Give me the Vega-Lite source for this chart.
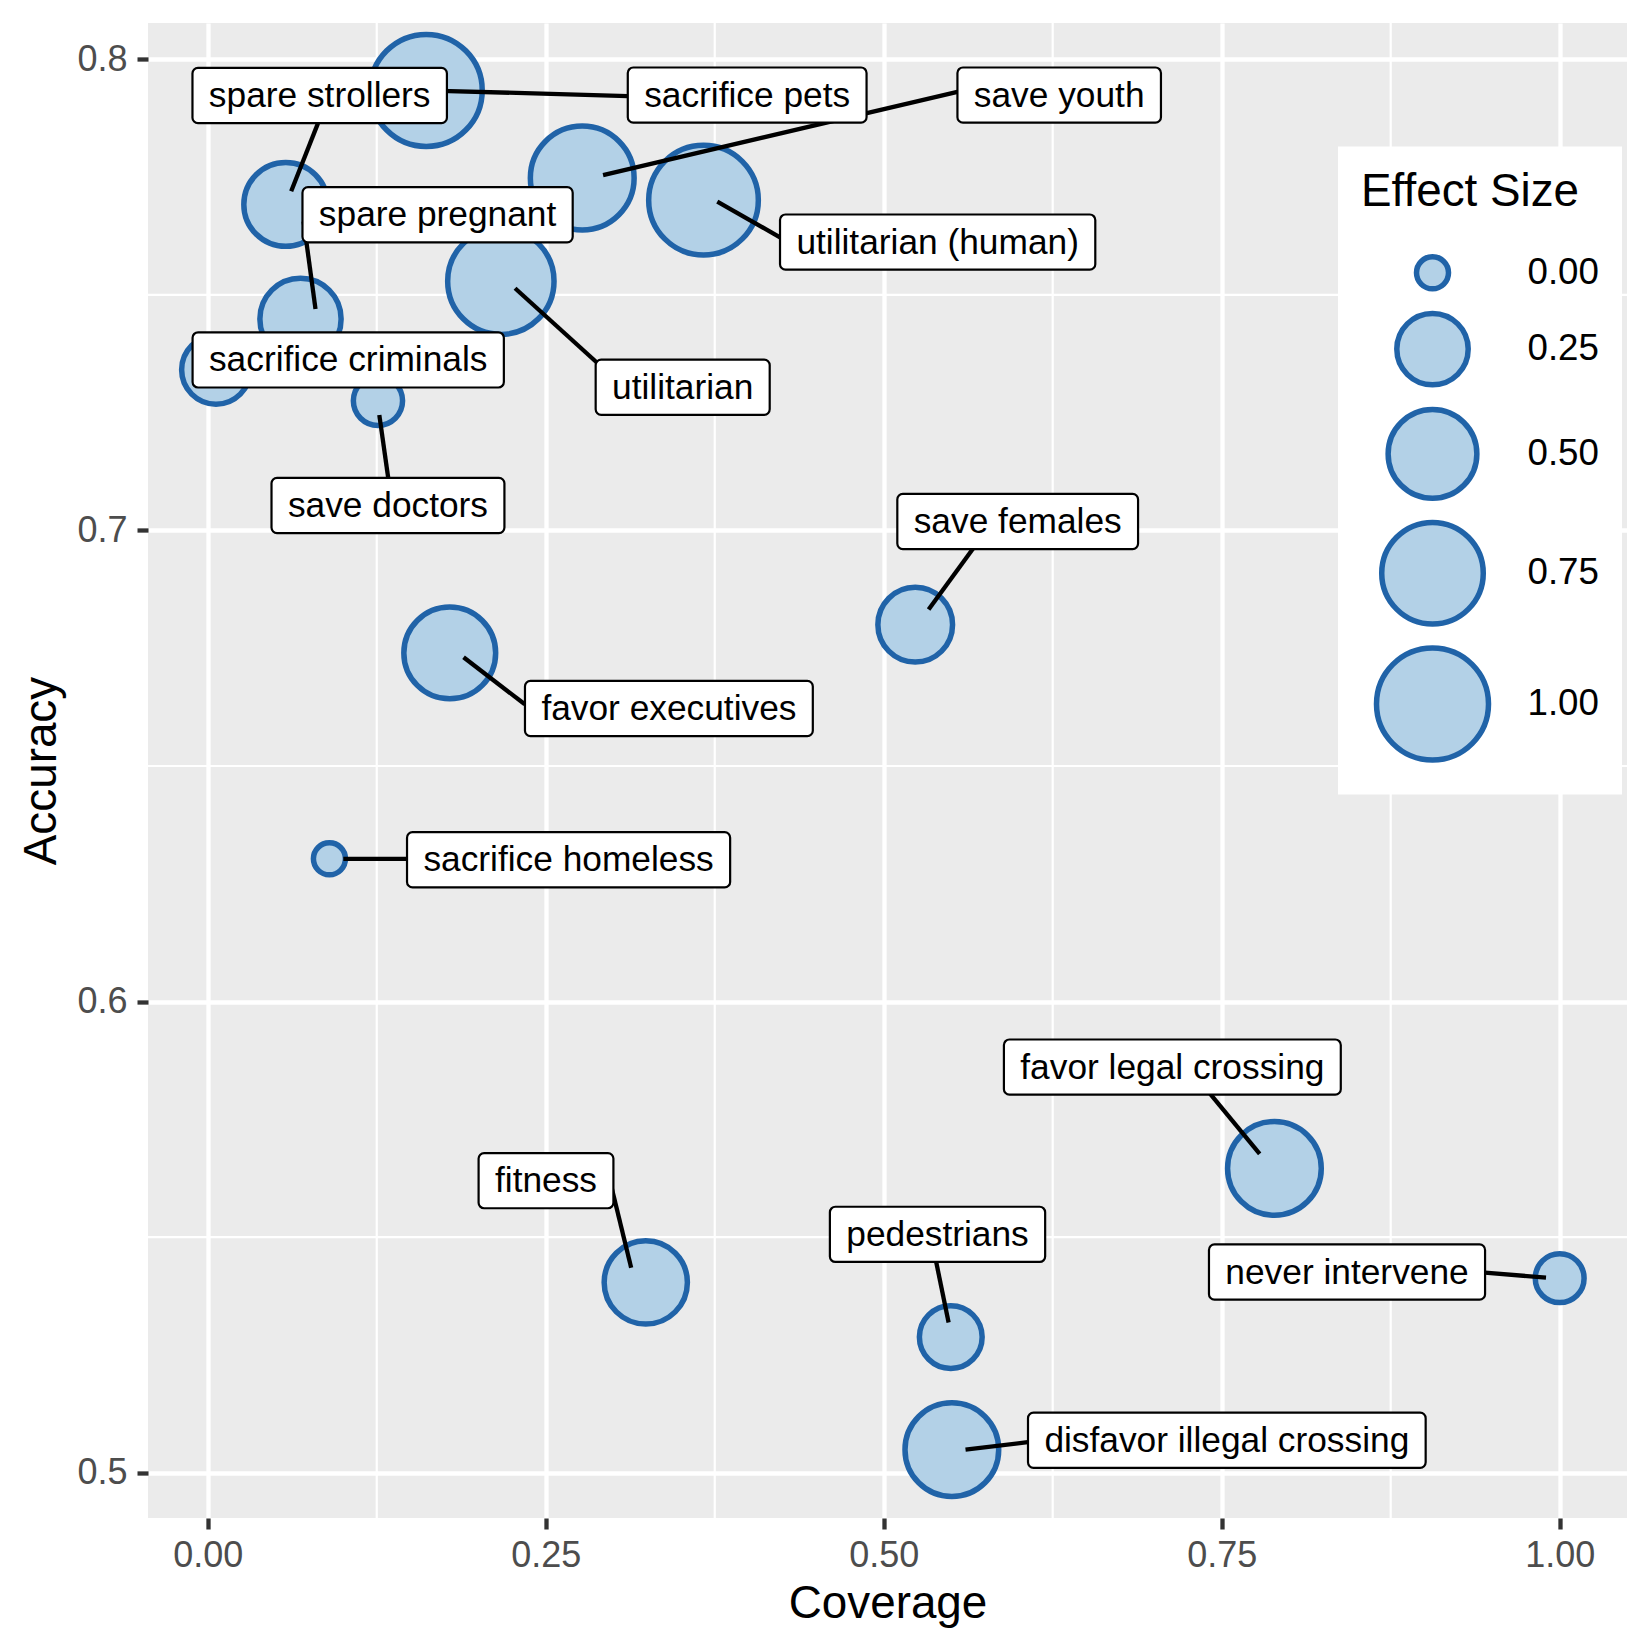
{
  "$schema": "https://vega.github.io/schema/vega-lite/v6.json",
  "width": 1479,
  "height": 1495,
  "autosize": {"type": "none"},
  "padding": {"left": 148, "top": 23, "right": 23, "bottom": 132},
  "config": {
    "font": "Liberation Sans",
    "view": {"fill": "#EBEBEB", "stroke": null},
    "axis": {
      "grid": true,
      "gridColor": "white",
      "gridWidth": 4.3,
      "domain": false,
      "tickColor": "#333333",
      "tickWidth": 4.3,
      "tickSize": 11,
      "labelFontSize": 36,
      "labelColor": "#4D4D4D",
      "labelFlush": false,
      "labelOverlap": false,
      "labelBound": false,
      "titleFontSize": 45.8,
      "titleFontWeight": "normal",
      "titleColor": "black"
    },
    "axisX": {"labelPadding": 37, "labelBaseline": "alphabetic", "titleBaseline": "alphabetic", "titleX": 739.5, "titleY": 99},
    "axisY": {"labelPadding": 10, "titleAngle": -90, "titleBaseline": "alphabetic", "titleAlign": "center", "titleX": -93, "titleY": 747.5}
  },
  "data": {
    "values": [
      {"label": "spare strollers", "x": 0.0577, "y": 0.7692, "effect": 0.42, "lx": 0.0828, "ly": 0.7923, "sx": 0.0617, "sy": 0.772, "ex": 0.0815, "ey": 0.7864},
      {"label": "sacrifice pets", "x": 0.1616, "y": 0.7934, "effect": 1.0, "lx": 0.399, "ly": 0.7924, "sx": 0.172, "sy": 0.7933, "ex": 0.3107, "ey": 0.7922},
      {"label": "save youth", "x": 0.277, "y": 0.7748, "effect": 0.8, "lx": 0.6298, "ly": 0.7924, "sx": 0.2924, "sy": 0.7754, "ex": 0.5545, "ey": 0.7931},
      {"label": "utilitarian (human)", "x": 0.3667, "y": 0.7701, "effect": 0.94, "lx": 0.5399, "ly": 0.7612, "sx": 0.3769, "sy": 0.7698, "ex": 0.4233, "ey": 0.7622},
      {"label": "spare pregnant", "x": 0.0686, "y": 0.7449, "effect": 0.38, "lx": 0.17, "ly": 0.767, "sx": 0.0797, "sy": 0.747, "ex": 0.0709, "ey": 0.7656},
      {"label": "sacrifice criminals", "x": 0.0061, "y": 0.7341, "effect": 0.22, "lx": 0.1039, "ly": 0.7362, "sx": 0.02, "sy": 0.7345, "ex": 0.03, "ey": 0.7345},
      {"label": "utilitarian", "x": 0.2168, "y": 0.7529, "effect": 0.86, "lx": 0.3513, "ly": 0.7304, "sx": 0.2273, "sy": 0.7514, "ex": 0.2876, "ey": 0.7357},
      {"label": "save doctors", "x": 0.1259, "y": 0.7275, "effect": 0.06, "lx": 0.1333, "ly": 0.7053, "sx": 0.1269, "sy": 0.7245, "ex": 0.1335, "ey": 0.7111},
      {"label": "save females", "x": 0.5233, "y": 0.68, "effect": 0.29, "lx": 0.5991, "ly": 0.7019, "sx": 0.5332, "sy": 0.6832, "ex": 0.566, "ey": 0.6961},
      {"label": "favor executives", "x": 0.179, "y": 0.674, "effect": 0.555, "lx": 0.3411, "ly": 0.6622, "sx": 0.1892, "sy": 0.6731, "ex": 0.2345, "ey": 0.6631},
      {"label": "sacrifice homeless", "x": 0.09, "y": 0.6303, "effect": 0.0, "lx": 0.2669, "ly": 0.6301, "sx": 0.1003, "sy": 0.6303, "ex": 0.1473, "ey": 0.6303},
      {"label": "favor legal crossing", "x": 0.789, "y": 0.5646, "effect": 0.59, "lx": 0.7135, "ly": 0.5861, "sx": 0.7781, "sy": 0.5677, "ex": 0.7415, "ey": 0.5804},
      {"label": "fitness", "x": 0.324, "y": 0.5404, "effect": 0.41, "lx": 0.2502, "ly": 0.562, "sx": 0.3132, "sy": 0.5435, "ex": 0.2984, "ey": 0.5609},
      {"label": "pedestrians", "x": 0.5496, "y": 0.5288, "effect": 0.16, "lx": 0.5398, "ly": 0.5506, "sx": 0.548, "sy": 0.5319, "ex": 0.5387, "ey": 0.5449},
      {"label": "never intervene", "x": 1.0, "y": 0.5413, "effect": 0.058, "lx": 0.8427, "ly": 0.5426, "sx": 0.9899, "sy": 0.5414, "ex": 0.9447, "ey": 0.5425},
      {"label": "disfavor illegal crossing", "x": 0.5504, "y": 0.5049, "effect": 0.59, "lx": 0.7538, "ly": 0.5069, "sx": 0.5605, "sy": 0.5049, "ex": 0.6065, "ey": 0.5065}
    ]
  },
  "layer": [
    {
      "data": {"values": [{"m": 0.125}, {"m": 0.375}, {"m": 0.625}, {"m": 0.875}]},
      "mark": {"type": "rule", "color": "white", "strokeWidth": 2.2},
      "encoding": {
        "x": {"field": "m", "type": "quantitative", "title": "Coverage", "scale": {"domain": [-0.0442, 1.0498], "nice": false, "zero": false}}
      }
    },
    {
      "data": {"values": [{"m": 0.55}, {"m": 0.65}, {"m": 0.75}]},
      "mark": {"type": "rule", "color": "white", "strokeWidth": 2.2},
      "encoding": {
        "y": {"field": "m", "type": "quantitative", "title": "Accuracy", "scale": {"domain": [0.4904, 0.8077], "nice": false, "zero": false}}
      }
    },
    {
      "mark": {"type": "circle", "color": "#B3D1E7", "stroke": "#2063A8", "strokeWidth": 5.5, "opacity": 1},
      "encoding": {
        "x": {"field": "x", "type": "quantitative", "title": "Coverage", "scale": {"domain": [-0.0442, 1.0498], "nice": false, "zero": false}, "axis": {"values": [0, 0.25, 0.5, 0.75, 1], "format": ".2f", "title": "Coverage"}},
        "y": {"field": "y", "type": "quantitative", "title": "Accuracy", "scale": {"domain": [0.4904, 0.8077], "nice": false, "zero": false}, "axis": {"values": [0.5, 0.6, 0.7, 0.8], "format": ".1f", "title": "Accuracy"}},
        "size": {
          "field": "effect",
          "type": "quantitative",
          "scale": {"type": "pow", "exponent": 0.75, "domain": [0, 1], "range": [1024, 12544]},
          "legend": {
            "title": "Effect Size",
            "orient": "none",
            "legendX": 1190,
            "legendY": 123.5,
            "values": [0, 0.25, 0.5, 0.75, 1],
            "format": ".2f",
            "fillColor": "white",
            "padding": 23,
            "titleFontSize": 45.8,
            "titleFontWeight": "normal",
            "titleColor": "black",
            "titleLimit": 500,
            "titlePadding": 38.5,
            "labelFontSize": 36.7,
            "labelColor": "black",
            "labelOffset": 36,
            "symbolOffset": 12.5,
            "rowPadding": 1.8,
            "symbolType": "circle",
            "symbolStrokeWidth": 5.5,
            "symbolOpacity": 1,
            "encode": {
              "symbols": {"fill": {"value": "#B3D1E7"}, "stroke": {"value": "#2063A8"}, "strokeWidth": {"value": 5.5}},
              "entries": {"fill": {"value": "#F0F0F0"}, "width": {"value": 142}, "height": {"value": 130}}
            }
          }
        }
      }
    },
    {
      "mark": {"type": "rule", "color": "black", "strokeWidth": 4.3},
      "encoding": {
        "x": {"field": "sx", "type": "quantitative", "title": "Coverage", "scale": {"domain": [-0.0442, 1.0498], "nice": false, "zero": false}},
        "y": {"field": "sy", "type": "quantitative", "title": "Accuracy", "scale": {"domain": [0.4904, 0.8077], "nice": false, "zero": false}},
        "x2": {"field": "ex"},
        "y2": {"field": "ey"}
      }
    },
    {
      "mark": {
        "type": "rect",
        "fill": "white",
        "stroke": "black",
        "strokeWidth": 2.2,
        "cornerRadius": 5.5,
        "yOffset": -27.6,
        "y2Offset": 27.6,
        "xOffset": {"expr": "-(0.01765*(556*length(datum.label)-334*length(replace(datum.label,regexp('[^ilj]','g'),''))-278*length(replace(datum.label,regexp('[^ft ]','g'),''))-223*length(replace(datum.label,regexp('[^r()]','g'),''))-56*length(replace(datum.label,regexp('[^scvyx]','g'),''))+277*length(replace(datum.label,regexp('[^m]','g'),'')))+16.4)"},
        "x2Offset": {"expr": "(0.01765*(556*length(datum.label)-334*length(replace(datum.label,regexp('[^ilj]','g'),''))-278*length(replace(datum.label,regexp('[^ft ]','g'),''))-223*length(replace(datum.label,regexp('[^r()]','g'),''))-56*length(replace(datum.label,regexp('[^scvyx]','g'),''))+277*length(replace(datum.label,regexp('[^m]','g'),'')))+16.4)"}
      },
      "encoding": {
        "x": {"field": "lx", "type": "quantitative", "title": "Coverage", "scale": {"domain": [-0.0442, 1.0498], "nice": false, "zero": false}},
        "x2": {"field": "lx"},
        "y": {"field": "ly", "type": "quantitative", "title": "Accuracy", "scale": {"domain": [0.4904, 0.8077], "nice": false, "zero": false}},
        "y2": {"field": "ly"}
      }
    },
    {
      "mark": {"type": "text", "fontSize": 35.3, "align": "center", "baseline": "alphabetic", "dy": 11.5, "fill": "black"},
      "encoding": {
        "x": {"field": "lx", "type": "quantitative", "title": "Coverage", "scale": {"domain": [-0.0442, 1.0498], "nice": false, "zero": false}},
        "y": {"field": "ly", "type": "quantitative", "title": "Accuracy", "scale": {"domain": [0.4904, 0.8077], "nice": false, "zero": false}},
        "text": {"field": "label", "type": "nominal"}
      }
    }
  ]
}
